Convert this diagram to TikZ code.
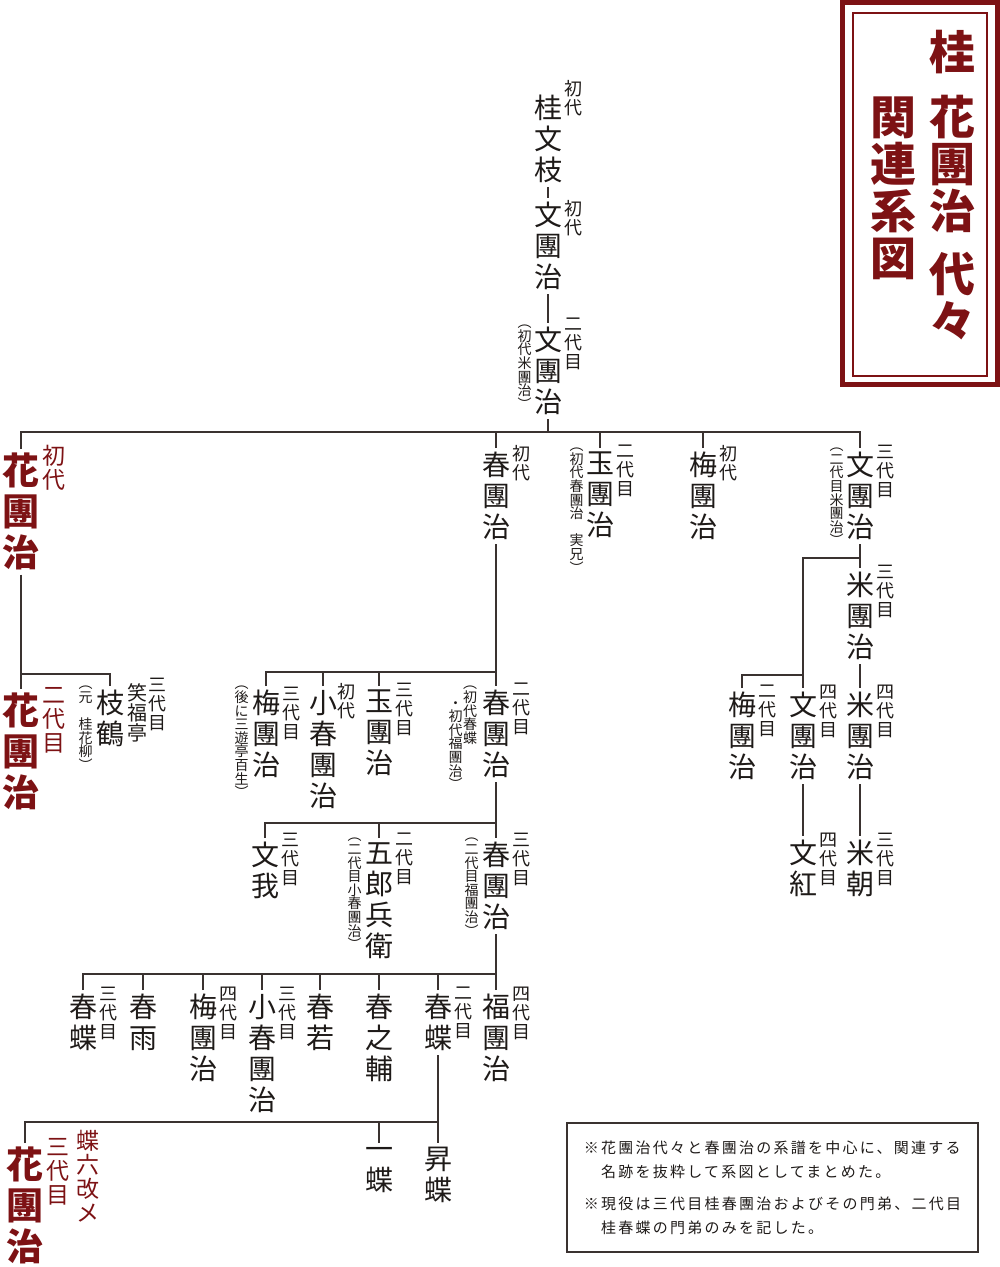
\documentclass[tikz,border=0pt]{standalone}
\usepackage{fontspec}
\setmainfont{Noto Sans CJK JP}
\usetikzlibrary{positioning}
\definecolor{kred}{HTML}{7D1214}
\definecolor{ink}{HTML}{1E1A18}
\definecolor{linegray}{HTML}{3A3230}

\begin{document}
\begin{tikzpicture}[x=1pt, y=-1pt,
  person/.style={font=\fontsize{28}{31}\selectfont, text=ink, align=center, inner xsep=0pt, inner ysep=4pt, anchor=north,
    execute at begin node=\vphantom{國}, execute at end node=\vphantom{國}},
  redperson/.style={font=\bfseries\fontsize{37}{41}\selectfont, text=kred, align=center, inner xsep=0pt, inner ysep=4pt, anchor=north,
    execute at begin node=\vphantom{國}, execute at end node=\vphantom{國}},
  gen/.style={font=\fontsize{18}{19}\selectfont, text=ink, align=center, inner sep=0pt, anchor=north west, yshift=3pt},
  redgen/.style={font=\fontsize{23}{24}\selectfont, text=kred, align=center, inner sep=0pt, anchor=north west},
  house/.style={font=\fontsize{20}{20}\selectfont, text=ink, align=center, inner sep=0pt, anchor=north west},
  memo/.style={font=\fontsize{14}{13.6}\selectfont, text=ink, align=center, inner sep=0pt, anchor=north east,
    execute at begin node=\vphantom{國}},
  title/.style={font=\bfseries\fontsize{46}{47}\selectfont, text=kred, align=center, inner sep=0pt, anchor=north},
  notebox/.style={draw=linegray, line width=1.2pt, minimum width=411pt, minimum height=129pt, inner sep=0pt, align=left,
    text=ink, font=\fontsize{15}{24}\selectfont\addfontfeatures{LetterSpace=15}},
  wire/.style={draw=linegray, line width=1.5pt}
]
\useasboundingbox (0,0) rectangle (1000,1267);

\draw[draw=kred, line width=5pt] (842.5,2.5) rectangle (997.5,384.5);
\draw[draw=kred, line width=1.5pt] (853,13) rectangle (987,376);
\node[title] (ti1) at (952,30) {桂\\[18pt]花\\團\\治\\[16pt]代\\々};
\node[title] (ti2) at (893,97) {関\\連\\系\\図};

\node[person] (bunshi) at (548,91) {桂\\文\\枝};
\node[right=2.5pt of bunshi.north east, gen, yshift=8pt] (bunshi-g) {初\\代};
\node[person] (bunji1) at (548,198) {文\\團\\治};
\node[right=2.5pt of bunji1.north east, gen, yshift=-5pt] (bunji1-g) {初\\代};
\node[person] (bunji2) at (548,323) {文\\團\\治};
\node[right=2.5pt of bunji2.north east, gen, yshift=2pt] (bunji2-g) {二\\代\\目};
\node[left=2pt of bunji2.north west, memo, yshift=-2pt] (bunji2-m) {︵\\初\\代\\米\\團\\治\\︶};

\coordinate (b1) at (0,432);
\node[redperson] (hana1) at (21,449) {花\\團\\治};
\node[right=3pt of hana1.north east, redgen, yshift=4pt] (hana1-g) {初\\代};
\node[person] (haru1) at (496,448) {春\\團\\治};
\node[right=2.5pt of haru1.north east, gen] (haru1-g) {初\\代};
\node[person] (tama2) at (600,448) {玉\\團\\治};
\node[right=2.5pt of tama2.north east, gen] (tama2-g) {二\\代\\目};
\node[left=2pt of tama2.north west, memo] (tama2-m) {︵\\初\\代\\春\\團\\治\\　\\実\\兄\\︶};
\node[person] (ume1) at (703,448) {梅\\團\\治};
\node[right=2.5pt of ume1.north east, gen] (ume1-g) {初\\代};
\node[person] (bunji3) at (860,448) {文\\團\\治};
\node[right=2.5pt of bunji3.north east, gen] (bunji3-g) {三\\代\\目};
\node[left=2pt of bunji3.north west, memo] (bunji3-m) {︵\\二\\代\\目\\米\\團\\治\\︶};

\draw[wire] (bunshi.south) -- (bunji1.north);
\draw[wire] (bunji1.south) -- (bunji2.north);
\draw[wire] (bunji2.south) -- (bunji2.south |- b1);
\draw[wire] (hana1.north) |- (bunji3.north |- b1) -- (bunji3.north);
\draw[wire] (haru1.north) -- (haru1.north |- b1);
\draw[wire] (tama2.north) -- (tama2.north |- b1);
\draw[wire] (ume1.north) -- (ume1.north |- b1);

\coordinate (b2) at (0,558);
\coordinate (b3) at (0,675);
\node[person] (yone3) at (860,568) {米\\團\\治};
\node[right=2.5pt of yone3.north east, gen] (yone3-g) {三\\代\\目};
\node[person] (ume2) at (742,688) {梅\\團\\治};
\node[right=2.5pt of ume2.north east, gen] (ume2-g) {二\\代\\目};
\node[person] (bunji4) at (803,688) {文\\團\\治};
\node[right=2.5pt of bunji4.north east, gen] (bunji4-g) {四\\代\\目};
\node[person] (yone4) at (860,688) {米\\團\\治};
\node[right=2.5pt of yone4.north east, gen] (yone4-g) {四\\代\\目};
\node[person] (bunko) at (803,836) {文\\紅};
\node[right=2.5pt of bunko.north east, gen] (bunko-g) {四\\代\\目};
\node[person] (yonecho) at (860,836) {米\\朝};
\node[right=2.5pt of yonecho.north east, gen] (yonecho-g) {三\\代\\目};

\draw[wire] (bunji3.south) -- (yone3.north);
\draw[wire] (bunji3.south |- b2) -| (bunji4.north);
\draw[wire] (ume2.north) |- (bunji4.north |- b3);
\draw[wire] (yone3.south) -- (yone4.north);
\draw[wire] (bunji4.south) -- (bunko.north);
\draw[wire] (yone4.south) -- (yonecho.north);

\coordinate (b4) at (0,674);
\node[redperson] (hana2) at (21,689) {花\\團\\治};
\node[right=3pt of hana2.north east, redgen, yshift=2pt] (hana2-g) {二\\代\\目};
\node[person] (shikaku) at (110,686) {枝\\鶴};
\node[right=3pt of shikaku.north east, house, yshift=3pt] (shofukutei) {笑\\福\\亭};
\node[right=1pt of shofukutei.north east, gen, yshift=2pt] (shikaku-g) {三\\代\\目};
\node[left=3pt of shikaku.north west, memo] (shikaku-m) {︵\\元\\　\\桂\\花\\柳\\︶};

\draw[wire] (hana1.south) -- (hana2.north);
\draw[wire] (hana1.south |- b4) -| (shikaku.north);

\coordinate (b5) at (0,672);
\node[person] (ume3) at (266,686) {梅\\團\\治};
\node[right=2.5pt of ume3.north east, gen, yshift=-4pt] (ume3-g) {三\\代\\目};
\node[left=3pt of ume3.north west, memo] (ume3-m) {︵\\後\\に\\三\\遊\\亭\\百\\生\\︶};
\node[person] (koharu1) at (323,686) {小\\春\\團\\治};
\node[right=0pt of koharu1.north east, gen] (koharu1-g) {初\\代};
\node[person] (tama3) at (379,686) {玉\\團\\治};
\node[right=2.5pt of tama3.north east, gen] (tama3-g) {三\\代\\目};
\node[person] (haru2) at (496,686) {春\\團\\治};
\node[right=2.5pt of haru2.north east, gen] (haru2-g) {二\\代\\目};
\node[left=4.5pt of haru2.north west, memo] (haru2-m) {︵\\初\\代\\春\\蝶};
\node[left=0pt of haru2-m.north west, memo, yshift=-15pt] (haru2-m2) {・\\初\\代\\福\\團\\治\\︶};

\draw[wire] (haru1.south) -- (haru2.north);
\draw[wire] (ume3.north) |- (haru2.north |- b5);
\draw[wire] (koharu1.north) -- (koharu1.north |- b5);
\draw[wire] (tama3.north) -- (tama3.north |- b5);

\coordinate (b6) at (0,823);
\node[person] (bunga) at (265,838) {文\\我};
\node[right=2.5pt of bunga.north east, gen, yshift=2pt] (bunga-g) {三\\代\\目};
\node[person] (gorobe) at (379,838) {五\\郎\\兵\\衛};
\node[right=2.5pt of gorobe.north east, gen, yshift=2pt] (gorobe-g) {二\\代\\目};
\node[left=3pt of gorobe.north west, memo] (gorobe-m) {︵\\二\\代\\目\\小\\春\\團\\治\\︶};
\node[person] (haru3) at (496,838) {春\\團\\治};
\node[right=2.5pt of haru3.north east, gen, yshift=2pt] (haru3-g) {三\\代\\目};
\node[left=3pt of haru3.north west, memo] (haru3-m) {︵\\二\\代\\目\\福\\團\\治\\︶};

\draw[wire] (haru2.south) -- (haru3.north);
\draw[wire] (bunga.north) |- (haru3.north |- b6);
\draw[wire] (gorobe.north) -- (gorobe.north |- b6);

\coordinate (b7) at (0,974);
\node[person] (chou3) at (83,990) {春\\蝶};
\node[right=2.5pt of chou3.north east, gen] (chou3-g) {三\\代\\目};
\node[person] (harusame) at (143,990) {春\\雨};
\node[person] (ume4) at (203,990) {梅\\團\\治};
\node[right=2.5pt of ume4.north east, gen] (ume4-g) {四\\代\\目};
\node[person] (koharu3) at (262,990) {小\\春\\團\\治};
\node[right=2.5pt of koharu3.north east, gen] (koharu3-g) {三\\代\\目};
\node[person] (haruwaka) at (320,990) {春\\若};
\node[person] (harunosuke) at (379,990) {春\\之\\輔};
\node[person] (chou2) at (438,990) {春\\蝶};
\node[right=2.5pt of chou2.north east, gen] (chou2-g) {二\\代\\目};
\node[person] (fuku4) at (496,990) {福\\團\\治};
\node[right=2.5pt of fuku4.north east, gen] (fuku4-g) {四\\代\\目};

\draw[wire] (haru3.south) -- (haru3.south |- b7);
\draw[wire] (chou3.north) |- (fuku4.north |- b7) -- (fuku4.north);
\draw[wire] (harusame.north) -- (harusame.north |- b7);
\draw[wire] (ume4.north) -- (ume4.north |- b7);
\draw[wire] (koharu3.north) -- (koharu3.north |- b7);
\draw[wire] (haruwaka.north) -- (haruwaka.north |- b7);
\draw[wire] (harunosuke.north) -- (harunosuke.north |- b7);
\draw[wire] (chou2.north) -- (chou2.north |- b7);

\coordinate (b8) at (0,1122);
\node[redperson] (hana3) at (25,1143) {花\\團\\治};
\node[right=3pt of hana3.north east, redgen, yshift=5pt] (hana3-g) {三\\代\\目};
\node[right=6pt of hana3-g.north east, redgen, yshift=8pt] (hana3-g2) {蝶\\六\\改\\メ};
\node[person] (itcho) at (379,1143) {一\\蝶};
\node[person] (shocho) at (438,1143) {昇\\蝶};

\draw[wire] (chou2.south) -- (shocho.north);
\draw[wire] (hana3.north) |- (chou2.south |- b8);
\draw[wire] (itcho.north) -- (itcho.north |- b8);

\node[notebox] (note) at (772.5,1187.5) {※花團治代々と春團治の系譜を中心に、関連する\\　名跡を抜粋して系図としてまとめた。\\[8pt]※現役は三代目桂春團治およびその門弟、二代目\\　桂春蝶の門弟のみを記した。};
\end{tikzpicture}
\end{document}
